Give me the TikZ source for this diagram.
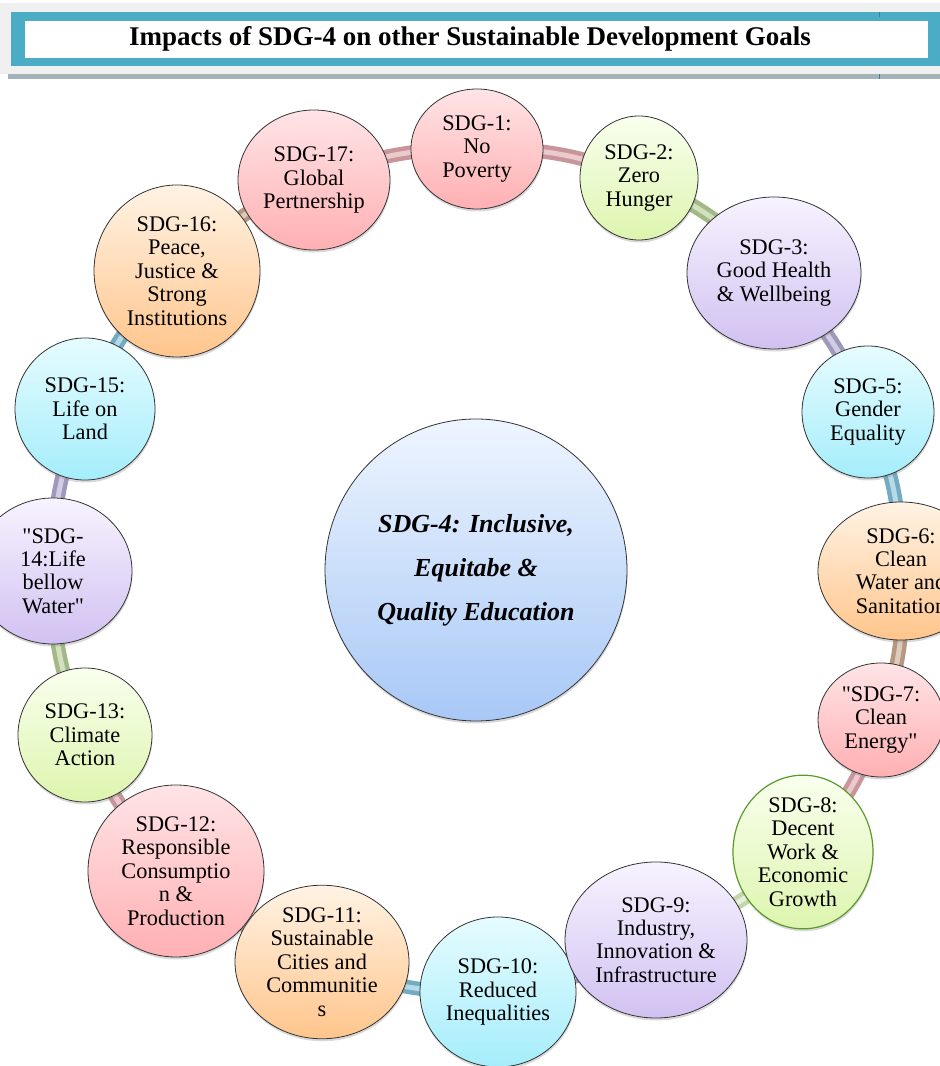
\documentclass[tikz,border=0pt]{standalone}
\usepackage{fontspec}
\setmainfont{Liberation Serif}
\usetikzlibrary{shapes.geometric,shadows}
\pgfdeclarelayer{tubes}
\pgfsetlayers{tubes,main}

% circle fills (top / bottom of the vertical gradient)
\definecolor{pinkTop}{HTML}{FFE4E6}
\definecolor{pinkBot}{HTML}{FFB0B3}
\definecolor{greenTop}{HTML}{F9FFEE}
\definecolor{greenBot}{HTML}{DDF5AE}
\definecolor{purpleTop}{HTML}{F7F3FF}
\definecolor{purpleBot}{HTML}{D1C1F1}
\definecolor{cyanTop}{HTML}{E6FCFF}
\definecolor{cyanBot}{HTML}{A5EDFB}
\definecolor{orangeTop}{HTML}{FFF3E4}
\definecolor{orangeBot}{HTML}{FFC58C}
\definecolor{centreTop}{HTML}{EEF5FF}
\definecolor{centreBot}{HTML}{A8C8F6}
\definecolor{workRim}{HTML}{5A9A2A}
% tube colours (rim / highlight)
\definecolor{pinkRim}{HTML}{C8969A}\definecolor{pinkHi}{HTML}{EBC9CC}
\definecolor{greenRim}{HTML}{A2B987}\definecolor{greenHi}{HTML}{D3E0C0}
\definecolor{lgreenRim}{HTML}{C3D6AB}\definecolor{lgreenHi}{HTML}{E8F0DC}
\definecolor{purpleRim}{HTML}{A098BA}\definecolor{purpleHi}{HTML}{D2CCE4}
\definecolor{blueRim}{HTML}{72ACC2}\definecolor{blueHi}{HTML}{B6DAE8}
\definecolor{tanRim}{HTML}{B69880}\definecolor{tanHi}{HTML}{DDCCBC}
% title bar
\definecolor{barTeal}{HTML}{4BACC6}
\definecolor{barGray}{HTML}{F0F0F0}
\definecolor{barStrip}{HTML}{A2B4BA}
\definecolor{barTick}{HTML}{3F7F90}

\newcommand\goalfont{\fontsize{22.3}{23.4}\selectfont}
\newcommand\centrefont{\fontsize{26}{44}\selectfont\bfseries\itshape}
\newcommand\dq{\textquotedbl}

\begin{document}
\begin{tikzpicture}[x=1pt,y=1pt,
  goal/.style={ellipse, draw=black!80, line width=0.8pt, inner sep=0pt,
    align=center, font=\goalfont,
    drop shadow={shadow xshift=0.5pt, shadow yshift=-2.5pt, opacity=0.3}},
  dims/.style 2 args={minimum width=#1pt, minimum height=#2pt},
  pinkg/.style={goal, top color=pinkTop, bottom color=pinkBot},
  greeng/.style={goal, top color=greenTop, bottom color=greenBot},
  purpleg/.style={goal, top color=purpleTop, bottom color=purpleBot},
  cyang/.style={goal, top color=cyanTop, bottom color=cyanBot},
  orangeg/.style={goal, top color=orangeTop, bottom color=orangeBot},
  tube/.style 2 args={draw=#1, double=#2, line width=4.5pt,
    double distance=5pt, bend left=11.25},
]
\useasboundingbox (0,0) rectangle (940,1066);

% ---- title bar ----
\fill[barGray] (0,1063) rectangle (940,992);
\fill[barTeal] (11,1054) rectangle (940,1000);
\fill[white] (25,1045) rectangle (928,1008);
\fill[barStrip] (8,992) rectangle (940,987);
\draw[barTick, line width=0.6pt] (879,1054) -- (879,1049);
\draw[barTick, line width=0.6pt] (879,992) -- (879,987);
\node[font=\fontsize{27}{30}\selectfont\bfseries] (title) at (470,1027)
  {Impacts of SDG-4 on other Sustainable Development Goals};

% ---- central goal ----
\node[circle, draw=black!80, line width=0.8pt, inner sep=0pt,
  minimum size=302pt, top color=centreTop, bottom color=centreBot,
  align=center, font=\centrefont,
  drop shadow={shadow xshift=0.5pt, shadow yshift=-2.5pt, opacity=0.3}]
  (g4) at (476,496) {SDG-4: Inclusive,\\Equitabe \&\\Quality Education};

% ---- surrounding goals ----
\node[pinkg, dims={132}{120}] (g1) at (477,917) {SDG-1:\\No\\Poverty};
\node[greeng, dims={118}{124}] (g2) at (639,888) {SDG-2:\\Zero\\Hunger};
\node[purpleg, dims={174}{152}] (g3) at (774,793)
  {SDG-3:\\Good Health\\\& Wellbeing};
\node[cyang, dims={132}{132}] (g5) at (868,654) {SDG-5:\\Gender\\Equality};
\node[orangeg, dims={166}{138}] (g6) at (901,495)
  {SDG-6:\\Clean\\Water and\\Sanitation};
\node[pinkg, dims={126}{114}] (g7) at (881,346) {\dq SDG-7:\\Clean\\Energy\dq};
\node[greeng, draw=workRim, line width=1.2pt, dims={140}{146}] (g8)
  at (803,214) {SDG-8:\\Decent\\Work \&\\Economic\\Growth};
\node[cyang, dims={156}{150}] (g10) at (498,74)
  {SDG-10:\\Reduced\\Inequalities};
\node[purpleg, dims={182}{156}] (g9) at (656,126)
  {SDG-9:\\Industry,\\Innovation \&\\Infrastructure};
\node[orangeg, dims={174}{152}] (g11) at (322,104)
  {SDG-11:\\Sustainable\\Cities and\\Communitie\\s};
\node[pinkg, dims={176}{172}] (g12) at (176,195)
  {SDG-12:\\Responsible\\Consumptio\\n \&\\Production};
\node[greeng, dims={134}{134}] (g13) at (85,331) {SDG-13:\\Climate\\Action};
\node[purpleg, dims={158}{146}] (g14) at (53,495)
  {\dq SDG-\\14:Life\\bellow\\Water\dq};
\node[cyang, dims={140}{142}] (g15) at (85,657) {SDG-15:\\Life on\\Land};
\node[orangeg, dims={166}{172}] (g16) at (177,795)
  {SDG-16:\\Peace,\\Justice \&\\Strong\\Institutions};
\node[pinkg, dims={152}{140}] (g17) at (314,886)
  {SDG-17:\\Global\\Pertnership};

% ---- ring of tubes joining neighbouring goals ----
\begin{pgfonlayer}{tubes}
\draw[tube={pinkRim}{pinkHi}]     (g1.center)  to (g2.center);
\draw[tube={greenRim}{greenHi}]   (g2.center)  to (g3.center);
\draw[tube={purpleRim}{purpleHi}] (g3.center)  to (g5.center);
\draw[tube={blueRim}{blueHi}]     (g5.center)  to (g6.center);
\draw[tube={tanRim}{tanHi}]       (g6.center)  to (g7.center);
\draw[tube={pinkRim}{pinkHi}]     (g7.center)  to (g8.center);
\draw[tube={lgreenRim}{lgreenHi}] (g8.center)  to (g9.center);
\draw[tube={purpleRim}{purpleHi}] (g9.center)  to (g10.center);
\draw[tube={blueRim}{blueHi}]     (g10.center) to (g11.center);
\draw[tube={tanRim}{tanHi}]       (g11.center) to (g12.center);
\draw[tube={pinkRim}{pinkHi}]     (g12.center) to (g13.center);
\draw[tube={greenRim}{greenHi}]   (g13.center) to (g14.center);
\draw[tube={purpleRim}{purpleHi}] (g14.center) to (g15.center);
\draw[tube={blueRim}{blueHi}]     (g15.center) to (g16.center);
\draw[tube={tanRim}{tanHi}]       (g16.center) to (g17.center);
\draw[tube={pinkRim}{pinkHi}]     (g17.center) to (g1.center);
\end{pgfonlayer}
\end{tikzpicture}
\end{document}
